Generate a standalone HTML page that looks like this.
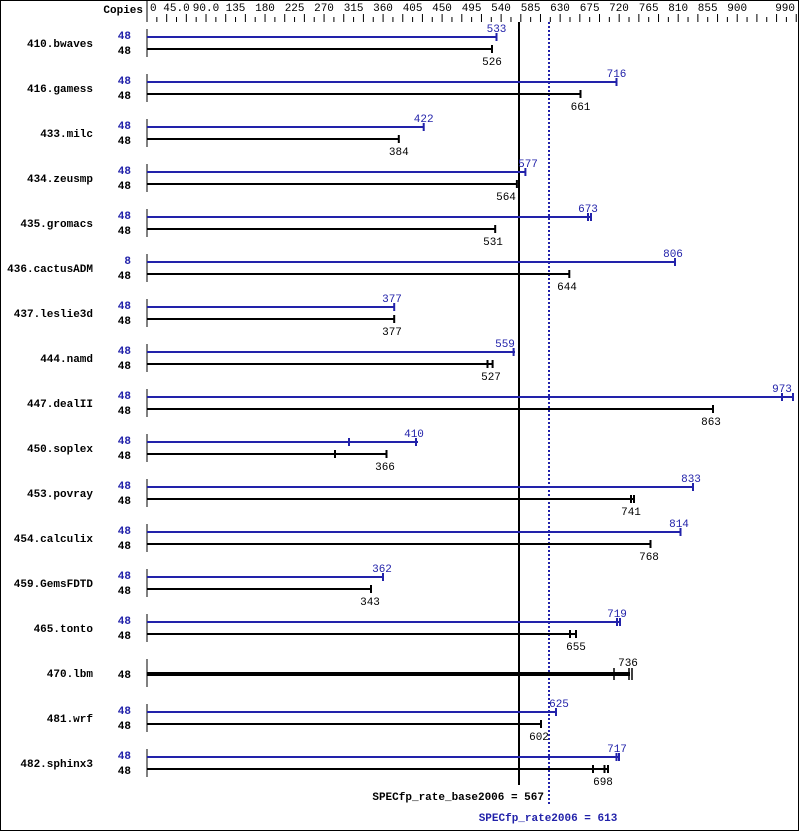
<!DOCTYPE html>
<html><head><meta charset="utf-8"><style>
html,body{margin:0;padding:0;background:#fff}
svg{display:block}
text{font-family:"Liberation Mono",monospace;font-size:11px}
.b{font-weight:bold}
.n{font-weight:bold;text-anchor:end}
.c{text-anchor:middle}
.bl{fill:#2222aa}
</style></head><body>
<svg width="799" height="831" xmlns="http://www.w3.org/2000/svg">
<rect x="0.5" y="0.5" width="798" height="830" fill="#fff" stroke="#000"/>
<text x="143" y="13" class="n">Copies</text>
<line x1="147" y1="0" x2="147" y2="22" stroke="#000"/>
<path d="M147 14v8m9.837 -5v5m9.837 -8v8m9.837 -5v5m9.837 -8v8m9.837 -5v5m9.837 -8v8m9.837 -5v5m9.837 -8v8m9.837 -5v5m9.837 -8v8m9.837 -5v5m9.837 -8v8m9.837 -5v5m9.837 -8v8m9.837 -5v5m9.837 -8v8m9.837 -5v5m9.837 -8v8m9.837 -5v5m9.837 -8v8m9.837 -5v5m9.837 -8v8m9.837 -5v5m9.837 -8v8m9.837 -5v5m9.837 -8v8m9.837 -5v5m9.837 -8v8m9.837 -5v5m9.837 -8v8m9.837 -5v5m9.837 -8v8m9.837 -5v5m9.837 -8v8m9.837 -5v5m9.837 -8v8m9.837 -5v5m9.837 -8v8m9.837 -5v5m9.837 -8v8m9.837 -5v5m9.837 -8v8m9.837 -5v5m9.837 -8v8m9.837 -5v5m9.837 -8v8m9.837 -5v5m9.837 -8v8m9.837 -5v5m9.837 -8v8m9.837 -5v5m9.837 -8v8m9.837 -5v5m9.837 -8v8m9.837 -5v5m9.837 -8v8m9.837 -5v5m9.837 -8v8m9.837 -5v5m9.837 -8v8m9.837 -5v5m9.837 -8v8m9.837 -5v5m9.837 -8v8m9.837 -5v5m9.837 -8v8" stroke="#000" fill="none"/>
<g class="c">
<text x="150" y="11" style="text-anchor:start">0</text>
<text x="176.5" y="11" class="c">45.0</text><text x="206" y="11" class="c">90.0</text><text x="235.5" y="11" class="c">135</text><text x="265" y="11" class="c">180</text><text x="294.6" y="11" class="c">225</text><text x="324" y="11" class="c">270</text><text x="353.6" y="11" class="c">315</text><text x="383" y="11" class="c">360</text><text x="412.6" y="11" class="c">405</text><text x="442" y="11" class="c">450</text><text x="471.6" y="11" class="c">495</text><text x="501" y="11" class="c">540</text><text x="530.6" y="11" class="c">585</text><text x="560" y="11" class="c">630</text><text x="589.7" y="11" class="c">675</text><text x="619" y="11" class="c">720</text><text x="648.7" y="11" class="c">765</text><text x="678.2" y="11" class="c">810</text><text x="707.7" y="11" class="c">855</text><text x="737.2" y="11" class="c">900</text><text x="795" y="11" style="text-anchor:end">990</text>
</g>

<line x1="519" y1="22" x2="519" y2="785" stroke="#000" stroke-width="2"/>
<line x1="549" y1="22" x2="549" y2="806" stroke="#2222aa" stroke-width="2" stroke-dasharray="2,2"/>

<g id="rows">
<text x="93" y="47" class="n">410.bwaves</text>
<text x="131" y="39" class="n bl">48</text><text x="131" y="54" class="n">48</text>
<line x1="147" y1="29" x2="147" y2="57" stroke="#000"/>
<path d="M147 37H496.5M496.5 33v8" stroke="#2222aa" stroke-width="2"/><text x="496.5" y="32" class="c bl">533</text>
<path d="M147 49H492M492 45v8" stroke="#000" stroke-width="2"/><text x="492" y="65" class="c">526</text>

<text x="93" y="92" class="n">416.gamess</text>
<text x="131" y="84" class="n bl">48</text><text x="131" y="99" class="n">48</text>
<line x1="147" y1="74" x2="147" y2="102" stroke="#000"/>
<path d="M147 82H616.5M616.5 78v8" stroke="#2222aa" stroke-width="2"/><text x="616.5" y="77" class="c bl">716</text>
<path d="M147 94H580.5M580.5 90v8" stroke="#000" stroke-width="2"/><text x="580.5" y="110" class="c">661</text>

<text x="93" y="137" class="n">433.milc</text>
<text x="131" y="129" class="n bl">48</text><text x="131" y="144" class="n">48</text>
<line x1="147" y1="119" x2="147" y2="147" stroke="#000"/>
<path d="M147 127H423.7M423.7 123v8" stroke="#2222aa" stroke-width="2"/><text x="423.7" y="122" class="c bl">422</text>
<path d="M147 139H398.8M398.8 135v8" stroke="#000" stroke-width="2"/><text x="398.8" y="155" class="c">384</text>

<text x="93" y="182" class="n">434.zeusmp</text>
<text x="131" y="174" class="n bl">48</text><text x="131" y="189" class="n">48</text>
<line x1="147" y1="164" x2="147" y2="192" stroke="#000"/>
<path d="M147 172H525.4M525.4 168v8" stroke="#2222aa" stroke-width="2"/><text x="528" y="167" class="c bl">577</text>
<path d="M147 184H516.9M516.9 180v8" stroke="#000" stroke-width="2"/><text x="506" y="200" class="c">564</text>

<text x="93" y="227" class="n">435.gromacs</text>
<text x="131" y="219" class="n bl">48</text><text x="131" y="234" class="n">48</text>
<line x1="147" y1="209" x2="147" y2="237" stroke="#000"/>
<path d="M147 217H590.5M588 213v8M591 213v8" stroke="#2222aa" stroke-width="2"/><text x="588" y="212" class="c bl">673</text>
<path d="M147 229H495.2M495.2 225v8" stroke="#000" stroke-width="2"/><text x="493" y="245" class="c">531</text>

<text x="93" y="272" class="n">436.cactusADM</text>
<text x="131" y="264" class="n bl">8</text><text x="131" y="279" class="n">48</text>
<line x1="147" y1="254" x2="147" y2="282" stroke="#000"/>
<path d="M147 262H675.6M675 258v8" stroke="#2222aa" stroke-width="2"/><text x="673" y="257" class="c bl">806</text>
<path d="M147 274H569.3M569.3 270v8" stroke="#000" stroke-width="2"/><text x="567" y="290" class="c">644</text>

<text x="93" y="317" class="n">437.leslie3d</text>
<text x="131" y="309" class="n bl">48</text><text x="131" y="324" class="n">48</text>
<line x1="147" y1="299" x2="147" y2="327" stroke="#000"/>
<path d="M147 307H394.2M394.2 303v8" stroke="#2222aa" stroke-width="2"/><text x="392" y="302" class="c bl">377</text>
<path d="M147 319H394.2M394.2 315v8" stroke="#000" stroke-width="2"/><text x="392" y="335" class="c">377</text>

<text x="93" y="362" class="n">444.namd</text>
<text x="131" y="354" class="n bl">48</text><text x="131" y="369" class="n">48</text>
<line x1="147" y1="344" x2="147" y2="372" stroke="#000"/>
<path d="M147 352H515M513.6 348v8" stroke="#2222aa" stroke-width="2"/><text x="505" y="347" class="c bl">559</text>
<path d="M147 364H492.6M492.6 360v8M487.5 360v8" stroke="#000" stroke-width="2"/><text x="491" y="380" class="c">527</text>

<text x="93" y="407" class="n">447.dealII</text>
<text x="131" y="399" class="n bl">48</text><text x="131" y="414" class="n">48</text>
<line x1="147" y1="389" x2="147" y2="417" stroke="#000"/>
<path d="M147 397H793M782 393v8M793 393v8" stroke="#2222aa" stroke-width="2"/><text x="782" y="392" class="c bl">973</text>
<path d="M147 409H713M713 405v8" stroke="#000" stroke-width="2"/><text x="711" y="425" class="c">863</text>

<text x="93" y="452" class="n">450.soplex</text>
<text x="131" y="444" class="n bl">48</text><text x="131" y="459" class="n">48</text>
<line x1="147" y1="434" x2="147" y2="462" stroke="#000"/>
<path d="M147 442H418M349 438v8M416 438v8" stroke="#2222aa" stroke-width="2"/><text x="414" y="437" class="c bl">410</text>
<path d="M147 454H387M335 450v8M386.5 450v8" stroke="#000" stroke-width="2"/><text x="385" y="470" class="c">366</text>

<text x="93" y="497" class="n">453.povray</text>
<text x="131" y="489" class="n bl">48</text><text x="131" y="504" class="n">48</text>
<line x1="147" y1="479" x2="147" y2="507" stroke="#000"/>
<path d="M147 487H693.3M693 483v8" stroke="#2222aa" stroke-width="2"/><text x="691" y="482" class="c bl">833</text>
<path d="M147 499H634M631 495v8M634 495v8" stroke="#000" stroke-width="2"/><text x="631" y="515" class="c">741</text>

<text x="93" y="542" class="n">454.calculix</text>
<text x="131" y="534" class="n bl">48</text><text x="131" y="549" class="n">48</text>
<line x1="147" y1="524" x2="147" y2="552" stroke="#000"/>
<path d="M147 532H680.8M680.5 528v8" stroke="#2222aa" stroke-width="2"/><text x="679" y="527" class="c bl">814</text>
<path d="M147 544H650.7M650.5 540v8" stroke="#000" stroke-width="2"/><text x="649" y="560" class="c">768</text>

<text x="93" y="587" class="n">459.GemsFDTD</text>
<text x="131" y="579" class="n bl">48</text><text x="131" y="594" class="n">48</text>
<line x1="147" y1="569" x2="147" y2="597" stroke="#000"/>
<path d="M147 577H383M383 573v8" stroke="#2222aa" stroke-width="2"/><text x="382" y="572" class="c bl">362</text>
<path d="M147 589H371M371 585v8" stroke="#000" stroke-width="2"/><text x="370" y="605" class="c">343</text>

<text x="93" y="632" class="n">465.tonto</text>
<text x="131" y="624" class="n bl">48</text><text x="131" y="639" class="n">48</text>
<line x1="147" y1="614" x2="147" y2="642" stroke="#000"/>
<path d="M147 622H620M617 618v8M620 618v8" stroke="#2222aa" stroke-width="2"/><text x="617" y="617" class="c bl">719</text>
<path d="M147 634H576.5M570 630v8M576 630v8" stroke="#000" stroke-width="2"/><text x="576" y="650" class="c">655</text>

<text x="93" y="677" class="n">470.lbm</text>
<text x="131" y="678" class="n">48</text>
<line x1="147" y1="659" x2="147" y2="687" stroke="#000"/>
<path d="M147 674H630" stroke="#000" stroke-width="4"/>
<path d="M614 668v12M629 668v12M632 668v12" stroke="#000" stroke-width="1.5"/>
<text x="628" y="666" class="c">736</text>

<text x="93" y="722" class="n">481.wrf</text>
<text x="131" y="714" class="n bl">48</text><text x="131" y="729" class="n">48</text>
<line x1="147" y1="704" x2="147" y2="732" stroke="#000"/>
<path d="M147 712H556.9M556 708v8" stroke="#2222aa" stroke-width="2"/><text x="559" y="707" class="c bl">625</text>
<path d="M147 724H541.8M541 720v8" stroke="#000" stroke-width="2"/><text x="539" y="740" class="c">602</text>

<text x="93" y="767" class="n">482.sphinx3</text>
<text x="131" y="759" class="n bl">48</text><text x="131" y="774" class="n">48</text>
<line x1="147" y1="749" x2="147" y2="777" stroke="#000"/>
<path d="M147 757H619M616.5 753v8M619 753v8" stroke="#2222aa" stroke-width="2"/><text x="617" y="752" class="c bl">717</text>
<path d="M147 769H608M593 765v8M604.5 765v8M608 765v8" stroke="#000" stroke-width="2"/><text x="603" y="785" class="c">698</text>
</g>

<text x="544" y="800" class="n">SPECfp_rate_base2006 = 567</text>
<text x="548" y="821" class="b bl" style="text-anchor:middle">SPECfp_rate2006 = 613</text>
</svg>
</body></html>
